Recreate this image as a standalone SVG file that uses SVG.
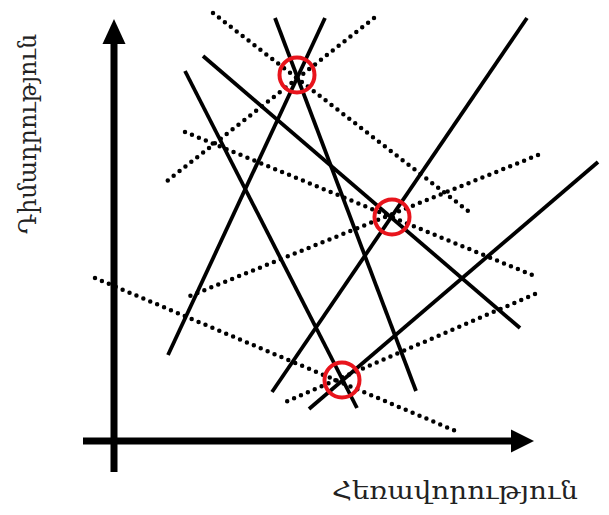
<svg xmlns="http://www.w3.org/2000/svg" width="609" height="515" viewBox="0 0 609 515">
<style>
.axis{stroke:#000;stroke-width:7;fill:none}
.solid{stroke:#000;stroke-width:3.8;stroke-linecap:butt;fill:none}
.dot{stroke:#000;stroke-width:4.5;stroke-linecap:round;stroke-dasharray:0 7.5;fill:none}
.ring{stroke:#e8141c;stroke-width:4;fill:none}
.lbl{font-family:"DejaVu Serif",serif;font-size:24px;fill:#222}
</style>
<rect width="609" height="515" fill="#fff"/>
<g id="axes">
<line class="axis" x1="114" y1="472" x2="114" y2="40"/>
<polygon points="114,19 102.5,44 125.5,44" fill="#000"/>
<line class="axis" x1="83" y1="441" x2="514" y2="441"/>
<polygon points="534,441 511,429.5 511,452.5" fill="#000"/>
</g>
<g id="connectors">
<line class="solid" x1="275" y1="18" x2="416" y2="391"/>
<line class="solid" x1="325" y1="18" x2="168" y2="355"/>
<line class="solid" x1="185" y1="71" x2="357" y2="408"/>
<line class="solid" x1="203" y1="56" x2="520" y2="328"/>
<line class="solid" x1="527" y1="18" x2="272" y2="392"/>
<line class="solid" x1="598" y1="162" x2="309" y2="409"/>
<line class="dot" x1="213" y1="13" x2="472" y2="214"/>
<line class="dot" x1="374" y1="18" x2="167" y2="181"/>
<line class="dot" x1="185" y1="132" x2="537" y2="277"/>
<line class="dot" x1="538" y1="155" x2="185" y2="298"/>
<line class="dot" x1="95" y1="278" x2="458" y2="432"/>
<line class="dot" x1="535" y1="294" x2="283" y2="403"/>
</g>
<g id="n1"><circle class="ring" cx="297" cy="75" r="17.5"/></g>
<g id="n2"><circle class="ring" cx="392" cy="217" r="17.5"/></g>
<g id="n3"><circle class="ring" cx="342" cy="380" r="17.5"/></g>
<g id="xlabel"><text class="lbl" x="332" y="499" textLength="246" lengthAdjust="spacingAndGlyphs">Հեռավորություն</text></g>
<g id="ylabel"><text class="lbl" transform="translate(36,134) rotate(-90)" text-anchor="middle" textLength="200" lengthAdjust="spacingAndGlyphs">Դիմադրություն</text></g>
</svg>
